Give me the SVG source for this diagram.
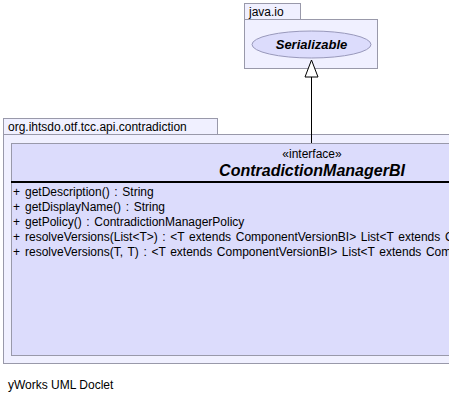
<svg xmlns="http://www.w3.org/2000/svg" width="449" height="402" viewBox="0 0 449 402">
<style>
.pkg{fill:#f0f0ff;stroke:#9999aa;stroke-width:1}
.cls{fill:#dcdcfc;stroke:#9999aa;stroke-width:1}
.t{font-family:"Liberation Sans",Arial,sans-serif;fill:#000}
.lbl{font-size:12px}
.m{font-size:12px;word-spacing:1.3px}
</style>
<rect width="449" height="402" fill="#ffffff"/>
<g id="pkg-java-io">
<rect class="pkg" x="244.5" y="3.5" width="56" height="16"/>
<rect class="pkg" x="244.5" y="19.5" width="133" height="49"/>
<text class="t lbl" x="249" y="15.5">java.io</text>
</g>
<g id="node-serializable">
<ellipse cx="311.5" cy="44.5" rx="59.5" ry="13.5" fill="#dcdcfc" stroke="#9999bb"/>
<text class="t" x="311.5" y="49" font-size="13" font-weight="bold" font-style="italic" text-anchor="middle">Serializable</text>
</g>
<g id="pkg-contradiction">
<rect class="pkg" x="3.5" y="118.5" width="214" height="16"/>
<rect class="pkg" x="3.5" y="134.5" width="460" height="229"/>
<text class="t lbl" x="8" y="130.5">org.ihtsdo.otf.tcc.api.contradiction</text>
</g>
<g id="node-contradictionmanagerbi">
<rect class="cls" x="11.5" y="143.5" width="460" height="212"/>
<line x1="11" y1="182" x2="460" y2="182" stroke="#000" stroke-width="2"/>
<text class="t m" x="312" y="157.5" text-anchor="middle">«interface»</text>
<text class="t" x="312" y="176" font-size="16" font-weight="bold" font-style="italic" text-anchor="middle">ContradictionManagerBI</text>
<text class="t m" x="13" y="196">+</text>
<text class="t m" x="25" y="196">getDescription() : String</text>
<text class="t m" x="13" y="211">+</text>
<text class="t m" x="25" y="211">getDisplayName() : String</text>
<text class="t m" x="13" y="226">+</text>
<text class="t m" x="25" y="226">getPolicy() : ContradictionManagerPolicy</text>
<text class="t m" x="13" y="241">+</text>
<text class="t m" x="25" y="241">resolveVersions(List&lt;T&gt;) : &lt;T extends ComponentVersionBI&gt; List&lt;T extends ComponentVersionBI&gt;</text>
<text class="t m" x="13" y="256">+</text>
<text class="t m" x="25" y="256">resolveVersions(T, T) : &lt;T extends ComponentVersionBI&gt; List&lt;T extends ComponentVersionBI&gt;</text>
</g>
<g id="connectors">
<line x1="311.5" y1="77" x2="311.5" y2="143" stroke="#000" stroke-width="1"/>
<polygon points="311.5,60 305,77 318,77" fill="#ffffff" stroke="#000" stroke-width="1"/>
</g>
<text class="t lbl" x="8" y="389">yWorks UML Doclet</text>
</svg>
